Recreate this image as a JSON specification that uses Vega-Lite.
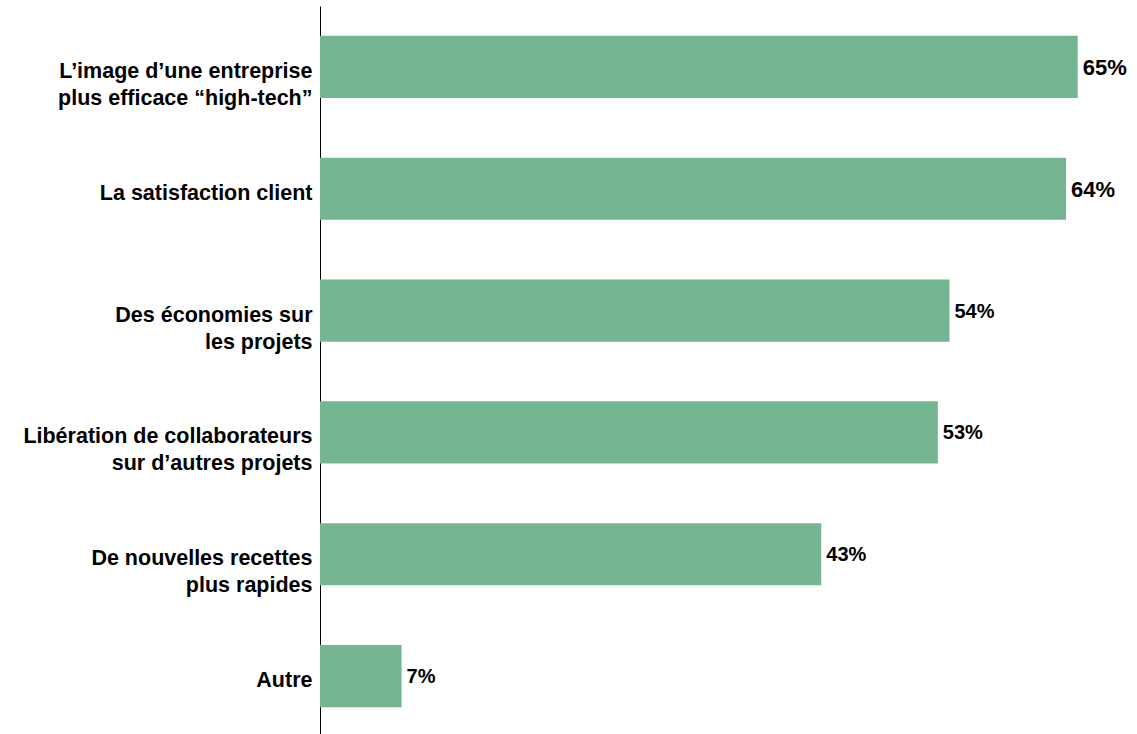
{
  "$schema": "https://vega.github.io/schema/vega-lite/v6.json",
  "autosize": "none",
  "padding": {"left": 320, "top": 6, "right": 1, "bottom": 0},
  "width": 816,
  "height": 731,
  "background": "white",
  "config": {"view": {"stroke": null}},
  "data": {
    "values": [
      {"label": "L’image d’une entreprise|plus efficace “high-tech”", "value": 65, "text": "65%"},
      {"label": "La satisfaction client", "value": 64, "text": "64%"},
      {"label": "Des économies sur|les projets", "value": 54, "text": "54%"},
      {"label": "Libération de collaborateurs|sur d’autres projets", "value": 53, "text": "53%"},
      {"label": "De nouvelles recettes|plus rapides", "value": 43, "text": "43%"},
      {"label": "Autre", "value": 7, "text": "7%"}
    ]
  },
  "encoding": {
    "y": {
      "field": "label",
      "type": "nominal",
      "sort": null,
      "scale": {"paddingInner": 0.49, "paddingOuter": 0.245},
      "axis": {
        "title": null,
        "ticks": false,
        "grid": false,
        "domain": true,
        "domainColor": "#000000",
        "domainWidth": 1,
        "labelPadding": 8,
        "labelOffset": 5,
        "labelFont": "Liberation Sans",
        "labelFontWeight": "bold",
        "labelFontSize": 21.5,
        "labelColor": "#000000",
        "labelLineHeight": 27,
        "labelLimit": 400,
        "labelExpr": "split(datum.label, '|')"
      }
    },
    "x": {
      "field": "value",
      "type": "quantitative",
      "scale": {"domain": [0, 70], "nice": false, "zero": true},
      "axis": null
    }
  },
  "layer": [
    {"mark": {"type": "bar", "color": "#74B592"}},
    {
      "mark": {"type": "text", "align": "left", "baseline": "middle", "dx": 5, "dy": 1, "font": "Liberation Sans", "fontWeight": "bold", "color": "#000000"},
      "encoding": {
        "text": {"field": "text"},
        "size": {"condition": {"test": "datum.value >= 60", "value": 22}, "value": 20}
      }
    }
  ]
}
